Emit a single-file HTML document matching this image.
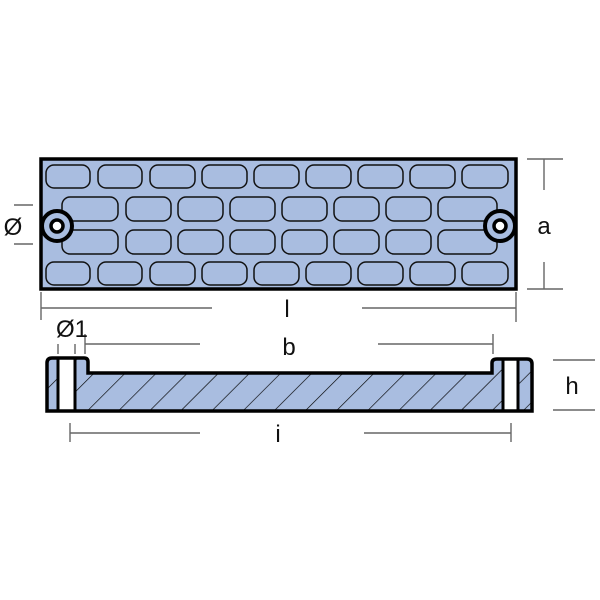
<!DOCTYPE html>
<html><head><meta charset="utf-8"><style>
html,body{margin:0;padding:0;background:#fff;width:600px;height:600px;overflow:hidden}
svg{display:block}
text{font-family:"Liberation Sans",sans-serif;fill:#111}
</style></head><body>
<svg width="600" height="600" viewBox="0 0 600 600">
<defs>
<pattern id="hatch" patternUnits="userSpaceOnUse" width="22" height="22" patternTransform="rotate(45)">
<line x1="0" y1="0" x2="0" y2="22" stroke="#000" stroke-width="1.3"/>
</pattern>
</defs>
<rect x="41" y="159" width="475" height="130" fill="#a9bde0" stroke="#000" stroke-width="3.5"/>
<g fill="none" stroke="#111" stroke-width="1.5">
<g id="r1">
<rect x="46" y="165" width="44" height="23" rx="8"/>
<rect x="98" y="165" width="44" height="23" rx="8"/>
<rect x="150" y="165" width="45" height="23" rx="8"/>
<rect x="202" y="165" width="45" height="23" rx="8"/>
<rect x="254" y="165" width="45" height="23" rx="8"/>
<rect x="306" y="165" width="45" height="23" rx="8"/>
<rect x="358" y="165" width="45" height="23" rx="8"/>
<rect x="410" y="165" width="45" height="23" rx="8"/>
<rect x="462" y="165" width="46" height="23" rx="8"/>
</g>
<use href="#r1" y="97"/>
<g id="r2">
<rect x="62" y="197" width="56" height="24" rx="8"/>
<rect x="126" y="197" width="45" height="24" rx="8"/>
<rect x="178" y="197" width="45" height="24" rx="8"/>
<rect x="230" y="197" width="45" height="24" rx="8"/>
<rect x="282" y="197" width="45" height="24" rx="8"/>
<rect x="334" y="197" width="45" height="24" rx="8"/>
<rect x="386" y="197" width="45" height="24" rx="8"/>
<rect x="438" y="197" width="59" height="24" rx="8"/>
</g>
<use href="#r2" y="33"/>
</g>
<circle cx="57" cy="226" r="15" fill="#a9bde0" stroke="#000" stroke-width="4"/>
<circle cx="57" cy="226" r="6" fill="#fff" stroke="#000" stroke-width="3.5"/>
<circle cx="500" cy="226" r="15" fill="#a9bde0" stroke="#000" stroke-width="4"/>
<circle cx="500" cy="226" r="6" fill="#fff" stroke="#000" stroke-width="3.5"/>
<path d="M47 412 L47 363 Q47 358 52 358 L84 358 Q88 358 88 362 L88 373 L492 373 L492 363 Q492 359 497 359 L527 359 Q532 359 532 364 L532 411 Z" fill="#a9bde0"/>
<path d="M47 412 L47 363 Q47 358 52 358 L84 358 Q88 358 88 362 L88 373 L492 373 L492 363 Q492 359 497 359 L527 359 Q532 359 532 364 L532 411 Z" fill="url(#hatch)"/>
<rect x="58" y="359" width="17" height="52" fill="#fff"/>
<rect x="503" y="360" width="15" height="50" fill="#fff"/>
<path d="M47 411 L47 363 Q47 358 52 358 L84 358 Q88 358 88 362 L88 373 L492 373 L492 363 Q492 359 497 359 L527 359 Q532 359 532 364 L532 411 Z" fill="none" stroke="#000" stroke-width="3.5"/>
<g stroke="#000" stroke-width="3"><line x1="58" y1="359" x2="58" y2="411"/><line x1="75" y1="359" x2="75" y2="411"/><line x1="503" y1="360" x2="503" y2="411"/><line x1="518" y1="360" x2="518" y2="411"/></g>
<g stroke="#666" stroke-width="1.4" fill="none">
<line x1="527" y1="159" x2="563" y2="159"/><line x1="527" y1="289" x2="563" y2="289"/>
<line x1="544" y1="159" x2="544" y2="190"/><line x1="544" y1="262" x2="544" y2="289"/>
<line x1="41" y1="292" x2="41" y2="320"/><line x1="516" y1="292" x2="516" y2="322"/>
<line x1="41" y1="308" x2="212" y2="308"/><line x1="362" y1="308" x2="516" y2="308"/>
<line x1="85" y1="334" x2="85" y2="354"/><line x1="493" y1="334" x2="493" y2="354"/>
<line x1="85" y1="344" x2="200" y2="344"/><line x1="378" y1="344" x2="493" y2="344"/>
<line x1="70" y1="423" x2="70" y2="442"/><line x1="511" y1="423" x2="511" y2="442"/>
<line x1="70" y1="433" x2="200" y2="433"/><line x1="364" y1="433" x2="511" y2="433"/>
<line x1="553" y1="360" x2="595" y2="360"/><line x1="553" y1="410" x2="595" y2="410"/>
<line x1="14" y1="205" x2="33" y2="205"/><line x1="14" y1="244" x2="33" y2="244"/>
<line x1="58" y1="344" x2="58" y2="354"/><line x1="75" y1="344" x2="75" y2="354"/>
</g>
<g font-size="24">
<text x="13" y="235" text-anchor="middle">Ø</text>
<text x="544" y="234" text-anchor="middle">a</text>
<text x="287" y="317" text-anchor="middle">l</text>
<text x="289" y="355" text-anchor="middle">b</text>
<text x="72" y="337" text-anchor="middle">Ø1</text>
<text x="572" y="394" text-anchor="middle">h</text>
<text x="278" y="442" text-anchor="middle">i</text>
</g>
</svg>
</body></html>
